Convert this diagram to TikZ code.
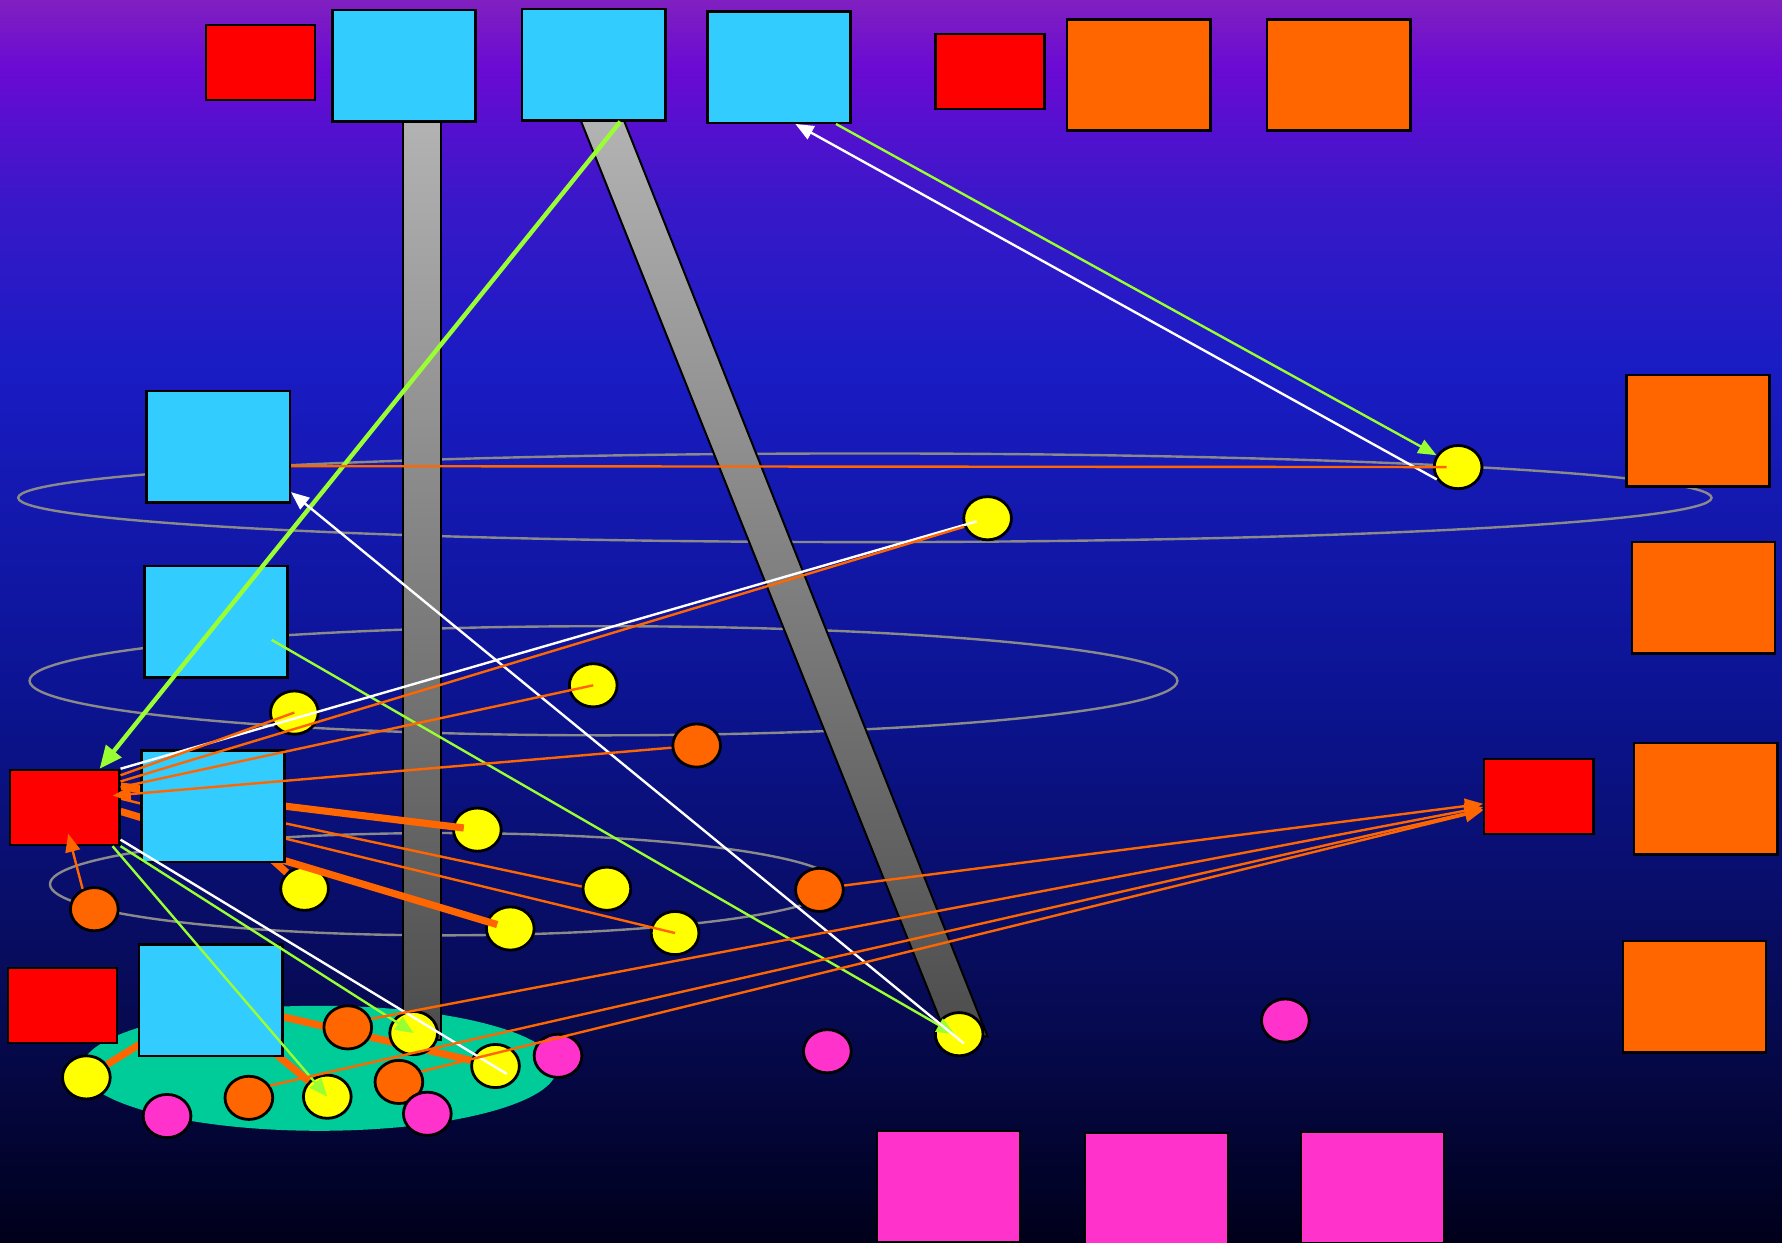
\documentclass[tikz,border=0pt]{standalone}
\usepackage{xcolor}
\usepackage{tikz}
\usetikzlibrary{arrows.meta,shapes.geometric}

\definecolor{skycyan}{HTML}{33CCFF}
\definecolor{signred}{HTML}{FF0000}
\definecolor{amber}{HTML}{FF6600}
\definecolor{rosepink}{HTML}{FF33CC}
\definecolor{lemon}{HTML}{FFFF00}
\definecolor{lawn}{HTML}{99FF33}
\definecolor{seafoam}{HTML}{00CC99}
\definecolor{ringgray}{HTML}{8A8A8A}
\definecolor{sky0}{HTML}{00001A}
\definecolor{sky1}{HTML}{060A50}
\definecolor{sky2}{HTML}{0C1494}
\definecolor{sky3}{HTML}{1A1CC4}
\definecolor{sky4}{HTML}{3818C8}
\definecolor{sky5}{HTML}{6A0AD4}
\definecolor{sky6}{HTML}{8020C0}
\pgfdeclareverticalshading{nightsky}{100bp}{color(0bp)=(sky0); color(25bp)=(sky0);
  color(33.85bp)=(sky1); color(47.55bp)=(sky2); color(60.35bp)=(sky3);
  color(66.75bp)=(sky4); color(72.25bp)=(sky5); color(75bp)=(sky6); color(100bp)=(sky6)}

\pgfdeclarelayer{back}
\pgfdeclarelayer{low}
\pgfdeclarelayer{dots}
\pgfdeclarelayer{under}
\pgfdeclarelayer{top}
\pgfsetlayers{back,low,dots,under,main,top}

\begin{document}
\begin{tikzpicture}[
    x=0.1mm,y=-0.1mm,
    >={Triangle[length=1.6mm,width=1.3mm]},
    panel/.style={draw=black,line width=0.6pt,minimum width=12.6mm,minimum height=9.8mm,inner sep=0pt},
    tag/.style={draw=black,line width=0.6pt,fill=signred,minimum width=9.6mm,minimum height=6.6mm,inner sep=0pt},
    dot/.style={ellipse,draw=black,line width=0.7pt,minimum width=4.2mm,minimum height=3.8mm,inner sep=0pt},
    ring/.style={draw=ringgray,line width=0.6pt},
    pillar/.style={draw=black,line width=0.5pt,top color=gray!60,bottom color=black!70},
    link/.style={line width=0.6pt},
    beam/.style={line width=1.8pt}
  ]
    \useasboundingbox (0,0) rectangle (1568,1093);

    \begin{pgfonlayer}{back}
      \shade[shading=nightsky] (0,0) rectangle (1568,1093);
      \draw[ring] (761,438) ellipse [x radius=745,y radius=39];
      \draw[ring] (531,599) ellipse [x radius=505,y radius=48];
      \draw[ring] (390,778) ellipse [x radius=346,y radius=45];
      \fill[seafoam] (281,940) ellipse [x radius=209,y radius=55];
      \draw[pillar] (355,106) rectangle (388,915);
      \draw[pillar] (511,106) -- (549,106) -- (869,912) -- (833,912) -- cycle;
    \end{pgfonlayer}

    % dots
    \begin{pgfonlayer}{dots}
      \node[dot,fill=lemon] (yel1) at (1283,411) {};
      \node[dot,fill=lemon] (yel2) at (869,456) {};
      \node[dot,fill=lemon] (yel3) at (522,603) {};
      \node[dot,fill=lemon] (yel4) at (259,627) {};
      \node[dot,fill=lemon] (yel5) at (420,730) {};
      \node[dot,fill=lemon] (yel6) at (268,782) {};
      \node[dot,fill=lemon] (yel7) at (534,782) {};
      \node[dot,fill=lemon] (yel8) at (449,817) {};
      \node[dot,fill=lemon] (yel9) at (594,821) {};
      \node[dot,fill=lemon] (yel10) at (844,910) {};
      \node[dot,fill=lemon] (yel11) at (364,909) {};
      \node[dot,fill=lemon] (yel12) at (436,938) {};
      \node[dot,fill=lemon] (yel13) at (76,948) {};
      \node[dot,fill=lemon] (yel14) at (288,965) {};
      \node[dot,fill=amber] (odt1) at (613,656) {};
      \node[dot,fill=amber] (odt2) at (721,783) {};
      \node[dot,fill=amber] (odt3) at (83,800) {};
      \node[dot,fill=amber] (odt4) at (306,904) {};
      \node[dot,fill=amber] (odt5) at (351,952) {};
      \node[dot,fill=amber] (odt6) at (219,966) {};
      \node[dot,fill=rosepink] (mag1) at (1131,898) {};
      \node[dot,fill=rosepink] (mag2) at (728,925) {};
      \node[dot,fill=rosepink] (mag3) at (491,929) {};
      \node[dot,fill=rosepink] (mag4) at (147,982) {};
      \node[dot,fill=rosepink] (mag5) at (376,980) {};
    \end{pgfonlayer}

    % boxes
    \node[tag] (redtl) at (229,55) {};
    \node[panel,fill=skycyan] (blu1) at (355.5,58) {};
    \node[panel,fill=skycyan] (blu2) at (522.5,57) {};
    \node[panel,fill=skycyan] (blu3) at (685.5,59) {};
    \node[tag] (redtr) at (871,63) {};
    \node[panel,fill=amber] (ora1) at (1002,66) {};
    \node[panel,fill=amber] (ora2) at (1178,66) {};
    \node[panel,fill=amber] (orr1) at (1494,379) {};
    \node[panel,fill=amber] (orr2) at (1499,526) {};
    \node[panel,fill=amber] (orr3) at (1501,703) {};
    \node[panel,fill=amber] (orr4) at (1491,877) {};
    \node[tag] (redr) at (1354,701) {};
    \node[panel,fill=skycyan] (blul1) at (192,393) {};
    \node[panel,fill=skycyan] (blul2) at (190,547) {};
    \node[panel,fill=skycyan] (blul3) at (187.5,709.5) {};
    \node[panel,fill=skycyan] (blul4) at (185.5,880) {};
    \node[tag] (redl1) at (57,710.5) {};
    \node[tag] (redl2) at (55,884.5) {};
    \node[panel,fill=rosepink] (pnk1) at (834.5,1044) {};
    \node[panel,fill=rosepink] (pnk2) at (1017.5,1046) {};
    \node[panel,fill=rosepink] (pnk3) at (1207.5,1045) {};

    \begin{pgfonlayer}{low}
      \draw[beam,amber] (blul4.center) -- (yel12);
    \end{pgfonlayer}

    \begin{pgfonlayer}{under}
      \draw[beam,amber,shorten >=1.2mm] (redl1.21) -- (yel5.center);
      \draw[beam,amber,shorten >=1.2mm] (redl1.-4) -- (yel8.center);
      \draw[link,amber] (redl1.19) -- (yel7.175);
      \draw[link,amber] (redl1.9) -- (yel9.center);
      \draw[beam,amber] (blul3.center) -- (yel6);
      \draw[beam,amber] (blul4.center) -- (yel13);
      \draw[beam,amber] (blul4.center) -- (yel14);
    \end{pgfonlayer}

    \begin{pgfonlayer}{top}
      \draw[-{Triangle[length=2mm,width=1.7mm]},lawn,line width=1.1pt] (blu2.-65) -- (redl1.48);
      \draw[->,link,lawn] (blu3.-45) -- (yel1);
      \draw[->,link,white] (yel1.210) -- (blu3.-74);
      \draw[->,link,lawn] ([shift={(4.9mm,-1.6mm)}]blul2.center) -- ([xshift=-0.4mm]yel10.center);
      \draw[->,link,white] ([shift={(0.4mm,-0.8mm)}]yel10.center) -- (blul1.-32);
      \draw[->,link,lawn] (redl1.-39) -- (yel14.center);
      \draw[->,link,lawn] (redl1.south east) -- (yel11.center);
      \draw[link,white,shorten <=1mm] (yel2.center) -- (redl1.north east);
      \draw[link,white] (redl1.-30) -- ([shift={(1mm,-0.7mm)}]yel12.center);
      \draw[link,amber,shorten >=1mm] (blul1.-15) -- (yel1.center);
      \draw[link,amber] (yel2.200) -- (redl1.25);
      \draw[link,amber] (yel3.center) -- (redl1.20);
      \draw[link,amber] (yel4.center) -- (redl1.30);
      \draw[->,link,amber] (odt1) -- ([xshift=-0.7mm]redl1.12);
      \draw[->,link,amber] (odt3.120) -- ([shift={(0.3mm,1.1mm)}]redl1.south);
      \draw[->,link,amber] (odt2.10) -- (redr);
      \draw[->,link,amber] (odt4.20) -- (redr);
      \draw[->,link,amber] (odt6.30) -- (redr);
      \draw[->,link,amber] (odt5.25) -- (redr);
    \end{pgfonlayer}
\end{tikzpicture}
\end{document}
